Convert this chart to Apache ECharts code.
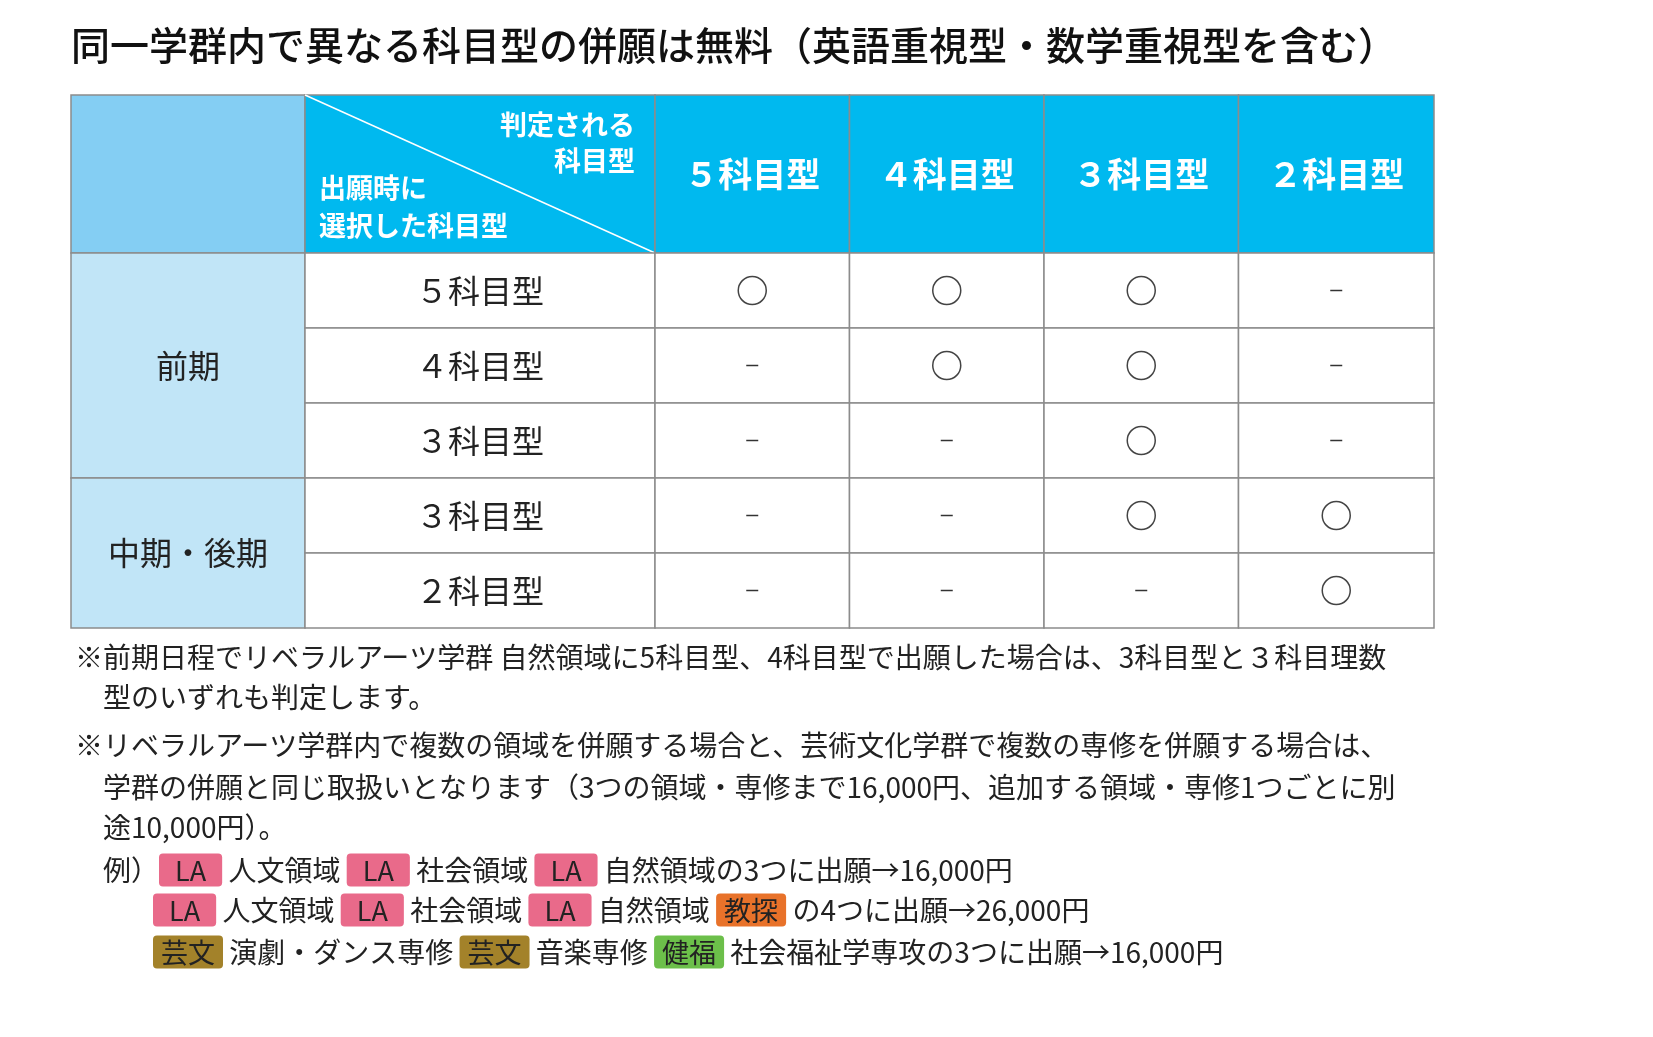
<!DOCTYPE html>
<html><head><meta charset="utf-8">
<script src="https://cdn.jsdelivr.net/npm/echarts@6/dist/echarts.min.js"></script>
<style>html,body{margin:0;background:#fff}#c{width:1653px;height:1037px}</style>
</head><body><div id="c"></div>
<script>
var title = '同一学群内で異なる科目型の併願は無料（英語重視型・数学重視型を含む）';
var judgedTypes = ['５科目型', '４科目型', '３科目型', '２科目型'];
var groups = [{ name: '前期', from: 0, to: 2 }, { name: '中期・後期', from: 3, to: 4 }];
var chosenTypes = ['５科目型', '４科目型', '３科目型', '３科目型', '２科目型'];
// 1 = 判定される(○), 0 = －
var marks = [
  [1, 1, 1, 0],
  [0, 1, 1, 0],
  [0, 0, 1, 0],
  [0, 0, 1, 1],
  [0, 0, 0, 1]
];

// layout (grid units = pixels inside the table)
var colEdges = [0, 234, 584, 778.5, 973, 1167.5, 1363];
var rowEdges = [0, 158, 233, 308, 383, 458, 533];
var font = '"Noto Sans CJK JP", sans-serif';
var ink = '#222';
var border = '#8c8c8c';

var cells = [];
cells.push({ value: [0, 0, 0, 1], kind: 'corner' });
cells.push({ value: [1, 0, 1, 1], kind: 'diag' });
judgedTypes.forEach(function (t, i) { cells.push({ value: [i + 2, 0, i + 2, 1], kind: 'head', text: t }); });
groups.forEach(function (g) { cells.push({ value: [0, g.from + 1, 0, g.to + 2], kind: 'group', text: g.name }); });
chosenTypes.forEach(function (t, r) {
  cells.push({ value: [1, r + 1, 1, r + 2], kind: 'label', text: t });
  marks[r].forEach(function (m, c) { cells.push({ value: [c + 2, r + 1, c + 2, r + 2], kind: m ? 'yes' : 'no' }); });
});

function renderItem(params, api) {
  var d = cells[params.dataIndex];
  var c0 = api.value(0), r0 = api.value(1), r1 = api.value(3);
  var p0 = api.coord([colEdges[c0], rowEdges[r0]]);
  var p1 = api.coord([colEdges[c0 + 1], rowEdges[r1]]);
  var x = p0[0], y = p0[1], w = p1[0] - p0[0], h = p1[1] - p0[1];
  var cx = x + w / 2, cy = y + h / 2;
  var fill = { corner: '#84cef3', diag: '#00b9ef', head: '#00b9ef', group: '#c1e5f7' }[d.kind] || '#fff';
  var kids = [{ type: 'rect', shape: { x: x, y: y, width: w, height: h }, style: { fill: fill, stroke: border, lineWidth: 1.5 } }];
  if (d.kind === 'head') {
    kids.push({ type: 'text', style: { x: cx, y: cy, text: d.text, fill: '#fff', font: 'bold 34px ' + font, align: 'center', verticalAlign: 'middle' } });
  } else if (d.kind === 'diag') {
    kids.push({ type: 'line', shape: { x1: x, y1: y, x2: x + w, y2: y + h }, style: { stroke: '#fff', lineWidth: 1.5 } });
    var tf = 'bold 27px ' + font;
    kids.push({ type: 'text', style: { x: x + w - 20, y: y + 30, text: '判定される', fill: '#fff', font: tf, align: 'right', verticalAlign: 'middle' } });
    kids.push({ type: 'text', style: { x: x + w - 20, y: y + 66, text: '科目型', fill: '#fff', font: tf, align: 'right', verticalAlign: 'middle' } });
    kids.push({ type: 'text', style: { x: x + 14, y: y + 93, text: '出願時に', fill: '#fff', font: tf, align: 'left', verticalAlign: 'middle' } });
    kids.push({ type: 'text', style: { x: x + 14, y: y + 131, text: '選択した科目型', fill: '#fff', font: tf, align: 'left', verticalAlign: 'middle' } });
  } else if (d.kind === 'group' || d.kind === 'label') {
    kids.push({ type: 'text', style: { x: cx, y: cy, text: d.text, fill: ink, font: '400 32px ' + font, align: 'center', verticalAlign: 'middle' } });
  } else if (d.kind === 'yes') {
    kids.push({ type: 'circle', shape: { cx: cx, cy: cy, r: 14 }, style: { fill: 'none', stroke: '#444', lineWidth: 1.5 } });
  } else if (d.kind === 'no') {
    kids.push({ type: 'line', shape: { x1: cx - 6, y1: cy, x2: cx + 6, y2: cy }, style: { stroke: '#333', lineWidth: 1.5 } });
  }
  return { type: 'group', children: kids };
}

var fs = 28;
function badge(bg, pad) {
  return { backgroundColor: bg, color: '#fff', borderRadius: 4, padding: [4, pad, 2, pad], fontSize: fs - 1, fontFamily: font };
}
var rich = {
  la: badge('#e96a8a', 16),
  kt: badge('#e8722a', 8),
  gb: badge('#a3822a', 8),
  kf: badge('#6cbf4a', 8)
};
var notes = [
  [75, 657, '※前期日程でリベラルアーツ学群 自然領域に5科目型、4科目型で出願した場合は、3科目型と３科目理数'],
  [103, 697, '型のいずれも判定します。'],
  [75, 745, '※リベラルアーツ学群内で複数の領域を併願する場合と、芸術文化学群で複数の専修を併願する場合は、'],
  [103, 787, '学群の併願と同じ取扱いとなります（3つの領域・専修まで16,000円、追加する領域・専修1つごとに別'],
  [103, 827, '途10,000円）。'],
  [103, 870, '例）{la|LA} 人文領域 {la|LA} 社会領域 {la|LA} 自然領域の3つに出願→16,000円'],
  [153, 910, '{la|LA} 人文領域 {la|LA} 社会領域 {la|LA} 自然領域 {kt|教探} の4つに出願→26,000円'],
  [153, 952, '{gb|芸文} 演劇・ダンス専修 {gb|芸文} 音楽専修 {kf|健福} 社会福祉学専攻の3つに出願→16,000円']
];
var graphics = [{ type: 'text', left: 71, top: 26, style: { text: title, font: '500 39px ' + font, fill: '#111' } }];
notes.forEach(function (n) {
  graphics.push({ type: 'text', x: n[0], y: n[1], style: { text: n[2], rich: rich, fontSize: fs, fontFamily: font, fill: ink, verticalAlign: 'middle' } });
});

var chart = echarts.init(document.getElementById('c'));
chart.setOption({
  animation: false,
  grid: { left: 71, top: 95, width: 1363, height: 533 },
  xAxis: { type: 'value', min: 0, max: 1363, show: false },
  yAxis: { type: 'value', min: 0, max: 533, inverse: true, show: false },
  series: [{ type: 'custom', renderItem: renderItem, data: cells.map(function (d) { return d.value; }), clip: false }],
  graphic: graphics
});
</script></body></html>
